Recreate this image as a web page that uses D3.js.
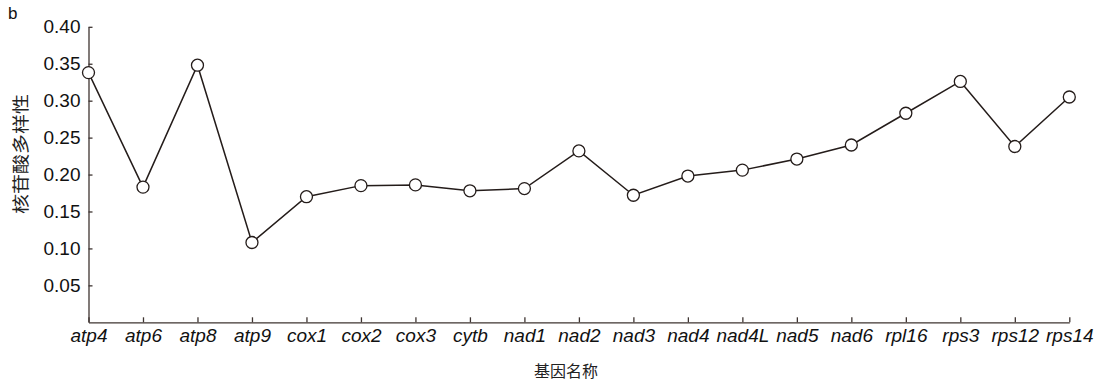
<!DOCTYPE html>
<meta charset="utf-8">
<script src="https://d3js.org/d3.v7.min.js"></script>
<style>
  body { margin: 0; background: #fff; }
  text { font-family: "Liberation Sans", Arial, sans-serif; }
</style>
<div id="my_dataviz"></div>
<script>

  // data
  var genes = ["atp4", "atp6", "atp8", "atp9", "cox1", "cox2", "cox3", "cytb", "nad1",
    "nad2", "nad3", "nad4", "nad4L", "nad5", "nad6", "rpl16", "rps3", "rps12", "rps14"];
  var diversity = [0.338, 0.183, 0.348, 0.108, 0.170, 0.185, 0.186, 0.178, 0.181,
    0.232, 0.172, 0.198, 0.206, 0.221, 0.240, 0.283, 0.326, 0.238, 0.305];
  var yTicks = [0.05, 0.10, 0.15, 0.20, 0.25, 0.30, 0.35, 0.40];

  var W = 1097, H = 382;
  var axisColor = "#3e3431", lineColor = "#241c1a";

  var svg = d3.select("#my_dataviz")
    .append("svg")
    .attr("width", W)
    .attr("height", H);

  var x = d3.scalePoint()
    .domain(genes)
    .range([88.5, 1069.3]);

  var y = d3.scaleLinear()
    .domain([0, 0.4])
    .range([322.3, 26.8]);

  // Y axis
  var gy = svg.append("g")
    .attr("transform", "translate(" + x.range()[0] + ",0)")
    .call(d3.axisLeft(y).tickValues(yTicks).tickFormat(d3.format(".2f"))
      .tickSizeInner(-4).tickSizeOuter(0).tickPadding(8));
  gy.selectAll("path, line").attr("stroke", axisColor).attr("stroke-width", 1.3);
  gy.selectAll("text").attr("font-size", 19).attr("fill", "#111")
    .style("font-family", "'Liberation Sans', Arial, sans-serif");

  // X axis
  var gx = svg.append("g")
    .attr("transform", "translate(0," + y(0) + ")")
    .call(d3.axisBottom(x).tickSizeInner(-5).tickSizeOuter(0));
  gx.selectAll("path, line").attr("stroke", axisColor).attr("stroke-width", 1.3);
  gx.selectAll("text")
    .attr("y", 20).attr("dy", 0)
    .attr("font-size", 19).attr("font-style", "italic").attr("fill", "#111")
    .style("font-family", "'Liberation Sans', Arial, sans-serif");

  // line
  var line = d3.line()
    .x(function (d, i) { return x(genes[i]); })
    .y(function (d) { return y(d); });

  svg.append("path")
    .datum(diversity)
    .attr("d", line)
    .attr("fill", "none")
    .attr("stroke", lineColor)
    .attr("stroke-width", 1.5);

  // dots
  svg.append("g")
    .selectAll("circle")
    .data(diversity)
    .enter()
    .append("circle")
    .attr("cx", function (d, i) { return x(genes[i]); })
    .attr("cy", function (d) { return y(d); })
    .attr("r", 6)
    .attr("fill", "#fff")
    .attr("stroke", lineColor)
    .attr("stroke-width", 1.3);

  // axis titles
  svg.append("text")
    .attr("x", 566)
    .attr("y", 377)
    .attr("text-anchor", "middle")
    .attr("font-size", 16)
    .attr("fill", "#222")
    .style("font-family", "'Noto Sans CJK SC', sans-serif")
    .text("基因名称");

  svg.append("text")
    .attr("transform", "translate(27,154) rotate(-90)")
    .attr("text-anchor", "middle")
    .attr("font-size", 17)
    .attr("textLength", 120)
    .attr("lengthAdjust", "spacingAndGlyphs")
    .attr("fill", "#222")
    .style("font-family", "'Noto Sans CJK SC', sans-serif")
    .text("核苷酸多样性");

  // panel letter
  svg.append("text")
    .attr("x", 8)
    .attr("y", 19)
    .attr("font-size", 17)
    .attr("fill", "#111")
    .text("b");

</script>
